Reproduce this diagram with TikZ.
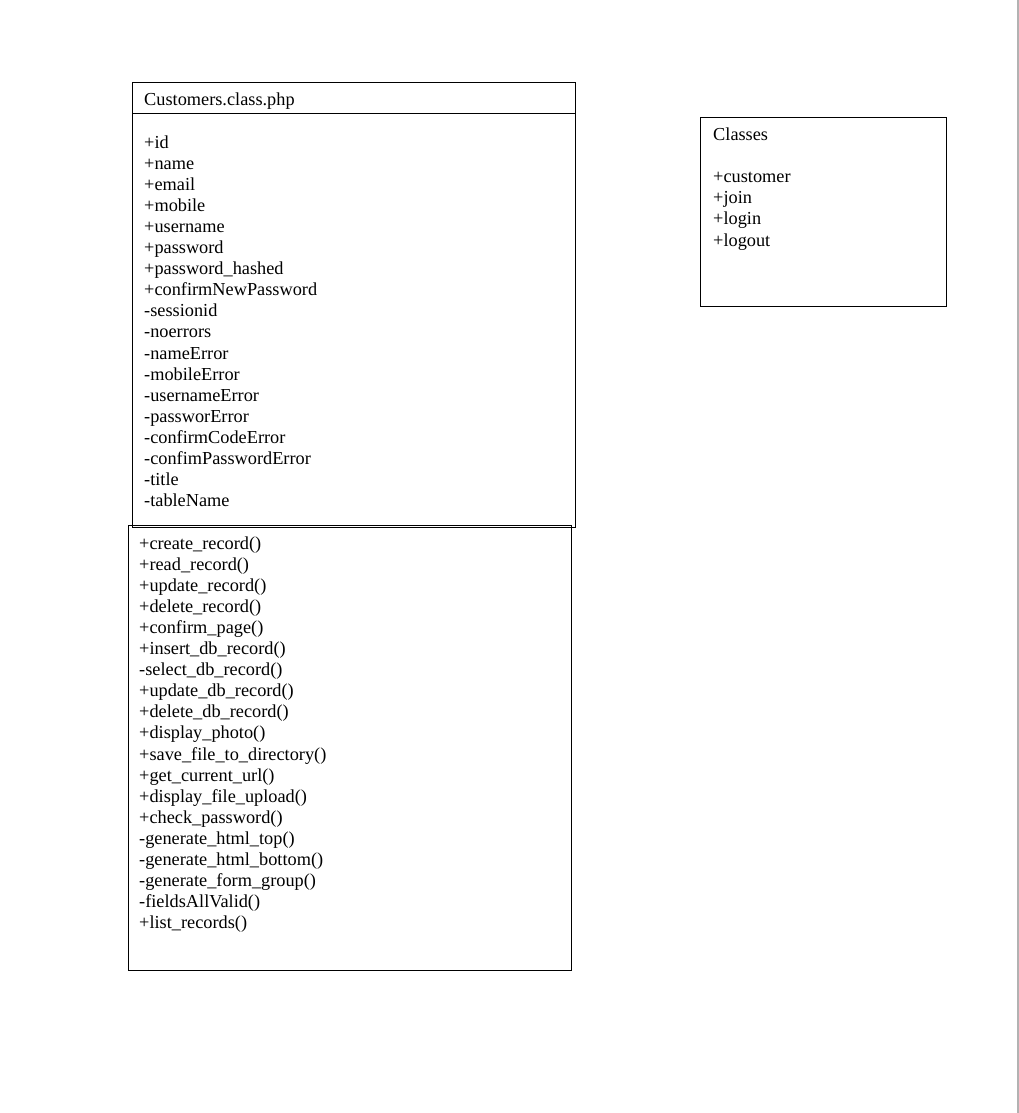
\documentclass[tikz,border=0pt]{standalone}
\usepackage{fontspec}
\setmainfont{Liberation Serif}
\begin{document}
\begin{tikzpicture}[x=1pt,y=-1pt,
  box/.style={draw=black,line width=0.9pt},
  txt/.style={anchor=base west,inner sep=0pt,font=\fontsize{18.3}{21.1}\selectfont}]
\useasboundingbox (0,0) rectangle (1019,1113);
\fill[white] (0,0) rectangle (1019,1113);
\draw[gray!60,line width=1.5pt] (1018,0) -- (1018,1113);
% Customers class: attributes box
\draw[box] (132,82) rectangle (575,527);
\draw[box] (132,113.5) -- (575,113.5);
\node[txt] (title) at (144,106) {Customers.class.php};
\foreach \t [count=\i] in {+id,+name,+email,+mobile,+username,+password,+password\_hashed,+confirmNewPassword,-sessionid,-noerrors,-nameError,-mobileError,-usernameError,-passworError,-confirmCodeError,-confimPasswordError,-title,-tableName}
  \node[txt] (attr\i) at (144,{148+21.1*(\i-1)}) {\t};
% methods box
\draw[box] (128.5,525.5) rectangle (571,970);
\foreach \t [count=\i] in {+create\_record(),+read\_record(),+update\_record(),+delete\_record(),+confirm\_page(),+insert\_db\_record(),-select\_db\_record(),+update\_db\_record(),+delete\_db\_record(),+display\_photo(),+save\_file\_to\_directory(),+get\_current\_url(),+display\_file\_upload(),+check\_password(),-generate\_html\_top(),-generate\_html\_bottom(),-generate\_form\_group(),-fieldsAllValid(),+list\_records()}
  \node[txt] (meth\i) at (139,{549.5+21.05*(\i-1)}) {\t};
% Classes box
\draw[box] (700.5,117.5) rectangle (946,306);
\node[txt] (classes) at (713,140.5) {Classes};
\foreach \t [count=\i] in {+customer,+join,+login,+logout}
  \node[txt] (cls\i) at (713,{182.7+21.1*(\i-1)}) {\t};
\end{tikzpicture}
\end{document}
